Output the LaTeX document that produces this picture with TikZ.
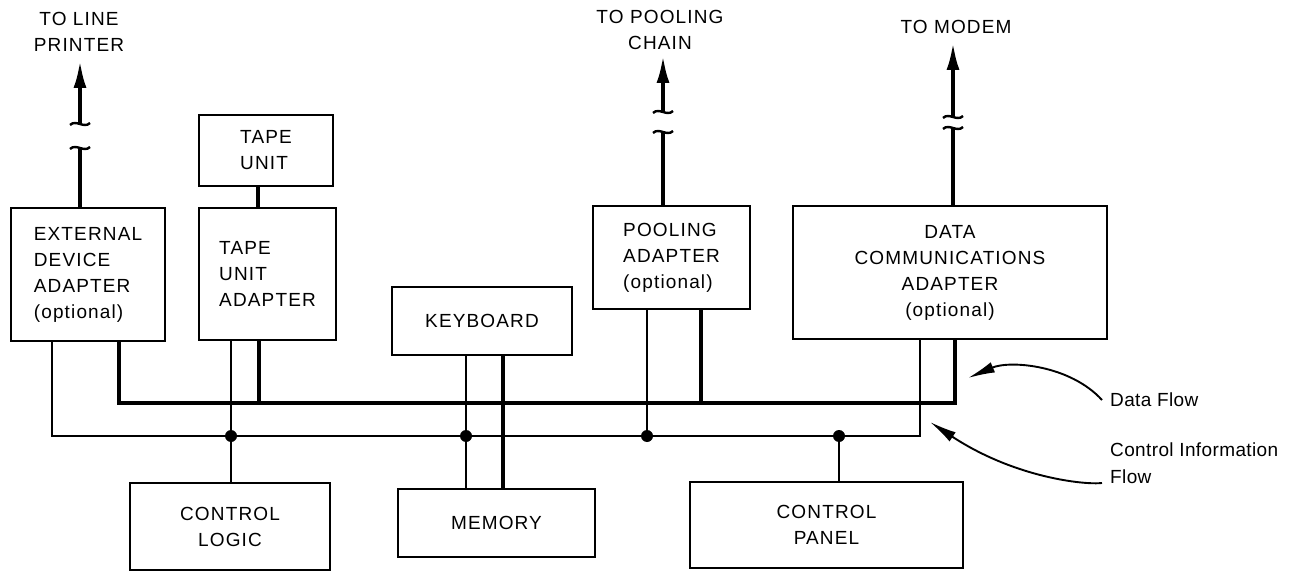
\documentclass[tikz,border=0pt]{standalone}
\usepackage{fontspec}
\setmainfont{Liberation Sans}[LetterSpace=6]
\usetikzlibrary{arrows.meta}
\newcommand\lbl{\fontsize{19}{26}\selectfont}
\newcommand\notefont{\fontsize{19}{27}\selectfont\addfontfeatures{LetterSpace=2}}
\begin{document}
\begin{tikzpicture}[x=1pt, y=-1pt,
  box/.style={draw, line width=1.9pt, inner sep=0pt, outer sep=0pt,
              anchor=north west, align=center, font=\lbl},
  txt/.style={inner sep=0pt, align=center, font=\lbl},
  note/.style={inner sep=0pt, anchor=west, align=left, font=\notefont},
  thinline/.style={line width=1.9pt},
  heavy/.style={line width=4pt},
  upArrow/.style={heavy, -{Latex[length=28pt,width=13pt]}},
  noteArrow/.style={line width=1.9pt, -{Latex[length=27pt,width=11pt]}},
  brk/.pic={\draw[line width=2.4pt] (-10,1) .. controls (-4,-5) and (4,5) .. (10,-1);},
  junction/.style={fill=black}
]
\useasboundingbox (0,0) rectangle (1290,572);

% ---- blocks ----
\node[box, align=left, minimum width=154pt, minimum height=133pt] (ext) at (11,208)
  {EXTERNAL\\DEVICE\\ADAPTER\\(optional)};
\node[box, align=left, minimum width=134pt, minimum height=71pt] (tu) at (199,115)
  {TAPE\\UNIT};
\node[box, align=left, minimum width=137pt, minimum height=132pt] (ta) at (199,208)
  {TAPE\\UNIT\\ADAPTER};
\node[box, minimum width=180pt, minimum height=68pt] (kb) at (392,287) {KEYBOARD};
\node[box, align=left, minimum width=157pt, minimum height=103pt] (pa) at (593,206)
  {POOLING\\ADAPTER\\(optional)};
\node[box, minimum width=314pt, minimum height=133pt] (dca) at (793,206)
  {DATA\\COMMUNICATIONS\\ADAPTER\\(optional)};
\node[box, minimum width=200pt, minimum height=87pt] (cl) at (130,483) {CONTROL\\LOGIC};
\node[box, minimum width=197pt, minimum height=68pt] (mem) at (398,489) {MEMORY};
\node[box, minimum width=273pt, minimum height=86pt] (cp) at (690,482) {CONTROL\\PANEL};

% ---- outgoing lines with breaks ----
\node[txt] (lp) at (79,32) {TO LINE\\PRINTER};
\node[txt] (pc) at (660,30) {TO POOLING\\CHAIN};
\node[txt] (md) at (956,27) {TO MODEM};

\coordinate (prLo) at (80,148);  \coordinate (prHi) at (80,124);  \coordinate (prTip) at (80,60);
\coordinate (pcLo) at (663,132); \coordinate (pcHi) at (663,112); \coordinate (pcTip) at (663,55);
\coordinate (mdLo) at (953,128); \coordinate (mdHi) at (953,117); \coordinate (mdTip) at (953,42);

\draw[heavy] (ext.north -| prLo) -- (prLo);
\draw[upArrow] (prHi) -- (prTip);
\pic at (prLo) {brk}; \pic at (prHi) {brk};

\draw[heavy] (pa.north -| pcLo) -- (pcLo);
\draw[upArrow] (pcHi) -- (pcTip);
\pic at (pcLo) {brk}; \pic at (pcHi) {brk};

\draw[heavy] (dca.north -| mdLo) -- (mdLo);
\draw[upArrow] (mdHi) -- (mdTip);
\pic at (mdLo) {brk}; \pic at (mdHi) {brk};

% tape unit to its adapter
\coordinate (tuc) at (258,0);
\draw[heavy] (tu.south -| tuc) -- (ta.north -| tuc);

% ---- data bus (heavy) ----
\coordinate (dL) at (119,403);
\coordinate (dR) at (955,403);
\coordinate (dTa) at (259,403);
\coordinate (dKb) at (503,403);
\coordinate (dPa) at (701,403);
\draw[heavy] (ext.south -| dL) -- (dL) -- (dR) -- (dca.south -| dR);
\draw[heavy] (ta.south -| dTa) -- (dTa);
\draw[heavy] (pa.south -| dPa) -- (dPa);
\draw[heavy] (kb.south -| dKb) -- (mem.north -| dKb);

% ---- control bus (thin) ----
\coordinate (cL) at (52,436);
\coordinate (cR) at (920,436);
\coordinate (jTa) at (231,436);
\coordinate (jKb) at (466,436);
\coordinate (jPa) at (647,436);
\coordinate (jCp) at (839,436);
\draw[thinline] (ext.south -| cL) -- (cL) -- (cR) -- (dca.south -| cR);
\draw[thinline] (ta.south -| jTa) -- (cl.north -| jTa);
\draw[thinline] (kb.south -| jKb) -- (mem.north -| jKb);
\draw[thinline] (pa.south -| jPa) -- (jPa);
\draw[thinline] (jCp) -- (cp.north -| jCp);
\foreach \j in {jTa,jKb,jPa,jCp} \fill[junction] (\j) circle (6pt);

% ---- legend ----
\node[note] (df) at (1110,400) {Data Flow};
\node[note] (cf) at (1110,463) {Control Information\\Flow};
\coordinate (dfTip) at (968,378);
\coordinate (cfTip) at (930,422);
\draw[noteArrow] ([xshift=-8pt]df.west) .. controls (1070,365) and (1010,360) .. (dfTip);
\draw[noteArrow] ([xshift=-8pt,yshift=-20pt]cf.west) .. controls (1085,485) and (1015,478) .. (cfTip);
\end{tikzpicture}
\end{document}
